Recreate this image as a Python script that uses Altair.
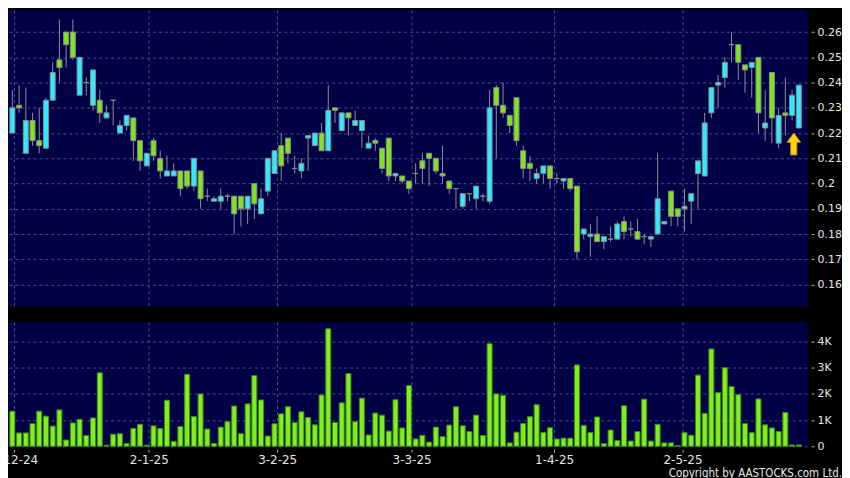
import altair as alt
import pandas as pd

# ---- data (daily candles, ~Dec 2024 - May 2025) ----
open_ = [0.220, 0.231, 0.212, 0.225, 0.217, 0.214, 0.233, 0.249, 0.260, 0.260,
         0.235, 0.240, 0.231, 0.233, 0.226, 0.233, 0.220, 0.223, 0.226, 0.217,
         0.207, 0.217, 0.210, 0.203, 0.203, 0.205, 0.205, 0.199, 0.205, 0.195,
         0.193, 0.193, 0.195, 0.195, 0.195, 0.190, 0.200, 0.188, 0.197, 0.204,
         0.215, 0.218, 0.206, 0.205, 0.218, 0.215, 0.220, 0.213, 0.230, 0.221,
         0.228, 0.223, 0.221, 0.214, 0.217, 0.214, 0.218, 0.203, 0.203, 0.201,
         0.204, 0.209, 0.212, 0.210, 0.204, 0.201, 0.198, 0.191, 0.196, 0.194,
         0.195, 0.193, 0.238, 0.231, 0.227, 0.234, 0.213, 0.208, 0.202, 0.204,
         0.207, 0.202, 0.201, 0.202, 0.199, 0.180, 0.179, 0.180, 0.177, 0.178,
         0.178, 0.185, 0.182, 0.181, 0.179, 0.178, 0.180, 0.184, 0.197, 0.190,
         0.190, 0.193, 0.204, 0.203, 0.228, 0.239, 0.242, 0.255, 0.255, 0.247,
         0.246, 0.250, 0.222, 0.244, 0.216, 0.228, 0.227, 0.222]
high = [0.237, 0.239, 0.238, 0.228, 0.230, 0.234, 0.248, 0.265, 0.260, 0.265,
        0.250, 0.242, 0.245, 0.237, 0.231, 0.233, 0.225, 0.227, 0.226, 0.217,
        0.212, 0.218, 0.213, 0.211, 0.208, 0.205, 0.205, 0.210, 0.205, 0.198,
        0.195, 0.198, 0.196, 0.195, 0.195, 0.195, 0.200, 0.198, 0.210, 0.213,
        0.220, 0.218, 0.211, 0.210, 0.219, 0.220, 0.224, 0.239, 0.230, 0.228,
        0.228, 0.229, 0.225, 0.219, 0.218, 0.214, 0.218, 0.204, 0.203, 0.201,
        0.208, 0.212, 0.212, 0.210, 0.215, 0.201, 0.198, 0.196, 0.196, 0.199,
        0.196, 0.237, 0.239, 0.240, 0.227, 0.234, 0.215, 0.211, 0.206, 0.207,
        0.207, 0.204, 0.202, 0.202, 0.199, 0.182, 0.184, 0.187, 0.179, 0.183,
        0.185, 0.187, 0.185, 0.186, 0.180, 0.179, 0.212, 0.185, 0.197, 0.190,
        0.198, 0.196, 0.209, 0.228, 0.238, 0.243, 0.250, 0.260, 0.255, 0.247,
        0.248, 0.250, 0.237, 0.244, 0.230, 0.242, 0.237, 0.239]
low = [0.220, 0.228, 0.212, 0.215, 0.212, 0.214, 0.233, 0.240, 0.246, 0.249,
       0.235, 0.235, 0.229, 0.224, 0.226, 0.223, 0.220, 0.221, 0.209, 0.205,
       0.207, 0.209, 0.202, 0.203, 0.203, 0.195, 0.198, 0.197, 0.190, 0.193,
       0.193, 0.190, 0.193, 0.180, 0.183, 0.184, 0.186, 0.188, 0.195, 0.204,
       0.201, 0.208, 0.204, 0.202, 0.205, 0.215, 0.213, 0.213, 0.224, 0.221,
       0.219, 0.223, 0.214, 0.214, 0.213, 0.204, 0.201, 0.201, 0.200, 0.196,
       0.200, 0.200, 0.199, 0.204, 0.200, 0.196, 0.190, 0.190, 0.193, 0.190,
       0.193, 0.192, 0.210, 0.226, 0.220, 0.215, 0.202, 0.201, 0.200, 0.200,
       0.198, 0.200, 0.198, 0.197, 0.170, 0.178, 0.171, 0.177, 0.174, 0.177,
       0.178, 0.178, 0.179, 0.178, 0.176, 0.175, 0.180, 0.184, 0.183, 0.183,
       0.181, 0.184, 0.190, 0.203, 0.226, 0.230, 0.238, 0.248, 0.241, 0.236,
       0.234, 0.220, 0.217, 0.216, 0.214, 0.219, 0.225, 0.222]
close = [0.230, 0.230, 0.225, 0.217, 0.215, 0.233, 0.244, 0.246, 0.255, 0.250,
         0.250, 0.240, 0.245, 0.228, 0.228, 0.233, 0.223, 0.227, 0.217, 0.209,
         0.212, 0.211, 0.205, 0.205, 0.205, 0.198, 0.199, 0.210, 0.194, 0.195,
         0.194, 0.195, 0.195, 0.188, 0.190, 0.195, 0.192, 0.194, 0.210, 0.213,
         0.207, 0.212, 0.206, 0.208, 0.219, 0.220, 0.213, 0.229, 0.229, 0.228,
         0.226, 0.225, 0.225, 0.216, 0.216, 0.206, 0.203, 0.204, 0.201, 0.198,
         0.204, 0.206, 0.210, 0.205, 0.203, 0.198, 0.198, 0.196, 0.196, 0.199,
         0.195, 0.230, 0.231, 0.228, 0.223, 0.217, 0.206, 0.206, 0.204, 0.207,
         0.202, 0.202, 0.202, 0.198, 0.173, 0.182, 0.180, 0.177, 0.179, 0.178,
         0.184, 0.181, 0.182, 0.178, 0.179, 0.179, 0.194, 0.185, 0.187, 0.187,
         0.191, 0.196, 0.209, 0.224, 0.238, 0.240, 0.248, 0.255, 0.248, 0.245,
         0.248, 0.228, 0.224, 0.226, 0.227, 0.227, 0.235, 0.239]
volume = [1340, 510, 510, 870, 1340, 1150, 770, 1390, 240, 890,
          1030, 410, 1080, 2810, 40, 460, 480, 110, 680, 840,
          40, 780, 680, 1760, 190, 760, 2750, 1140, 2000, 660,
          110, 730, 940, 1540, 480, 1620, 2700, 1770, 390, 860,
          1240, 1510, 910, 1320, 1100, 820, 1960, 4490, 910, 1660,
          2780, 940, 1840, 430, 1270, 1190, 580, 1780, 700, 2320,
          280, 420, 160, 730, 370, 810, 1510, 780, 560, 1190,
          410, 3920, 2000, 1950, 130, 540, 870, 1130, 1590, 530,
          710, 280, 310, 310, 3110, 800, 530, 1120, 100, 620,
          220, 1550, 200, 560, 1800, 200, 840, 130, 130, 20,
          520, 420, 2720, 1260, 3720, 2050, 3000, 2280, 1970, 870,
          520, 1810, 820, 700, 560, 1290, 50, 50]

tick_pos = [0.3, 20.3, 39.4, 59.4, 80.6, 99.7]
tick_lab = ["2-12-24", "2-1-25", "3-2-25", "3-3-25", "1-4-25", "2-5-25"]
price_ticks = [0.16, 0.17, 0.18, 0.19, 0.20, 0.21, 0.22, 0.23, 0.24, 0.25, 0.26]
vol_ticks = [0, 1000, 2000, 3000, 4000]

n = len(close)
df = pd.DataFrame({"i": list(range(n)), "open": open_, "high": high,
                   "low": low, "close": close, "volume": volume})
df["dir"] = ["up" if c >= o else "down" for o, c in zip(open_, close)]

# label expression for the date axis
expr = f"'{tick_lab[-1]}'"
for k in range(len(tick_pos) - 2, -1, -1):
    mid = (tick_pos[k] + tick_pos[k + 1]) / 2
    expr = f"datum.value < {mid} ? '{tick_lab[k]}' : ({expr})"

W = 806
FONT = "DejaVu Sans"
GRID = "#4C4C88"
UP = "#2EEBFF"
DOWN = "#80E51E"

xscale = alt.Scale(domain=[-0.5, n - 0.5], nice=False, zero=False)

x_top = alt.X("i:Q", scale=xscale, axis=alt.Axis(
    values=tick_pos, tickCount=len(tick_pos), grid=True, labels=False, ticks=False,
    domain=False, title=None, gridDash=[3, 3], gridColor=GRID))

y_price = alt.Y("low:Q", scale=alt.Scale(domain=[0.1516, 0.2688], nice=False, zero=False),
                axis=alt.Axis(orient="right", values=price_ticks, tickCount=len(price_ticks),
                              format=".2~f", grid=True, gridDash=[3, 3], gridColor=GRID,
                              domain=False, tickSize=3, offset=4, labelPadding=3,
                              labelOverlap=False, labelFontSize=11, title=None))

base = alt.Chart(df)
wicks = base.mark_rule(color="#8E8E8E", strokeWidth=1).encode(
    x=x_top, y=y_price, y2="high:Q")
bodies = base.mark_bar(size=5, stroke="#8A8A8A", strokeWidth=1).encode(
    x="i:Q", y="open:Q", y2="close:Q",
    color=alt.Color("dir:N", scale=alt.Scale(domain=["up", "down"], range=[UP, DOWN]),
                    legend=None))

last = df.tail(1)
arrow_path = "M0,-1 L0.62,-0.15 L0.28,-0.15 L0.28,1 L-0.28,1 L-0.28,-0.15 L-0.62,-0.15 Z"
arrow = alt.Chart(last).mark_point(shape=arrow_path, filled=True, size=484,
                                   fill="#FFD21A", stroke="#C88A00", strokeWidth=1,
                                   opacity=1, xOffset=-5, yOffset=16).encode(
    x="i:Q", y="open:Q")

top = alt.layer(wicks, bodies, arrow).properties(width=W, height=297)

x_bot = alt.X("i:Q", scale=xscale, axis=alt.Axis(
    values=tick_pos, tickCount=len(tick_pos), labelExpr=expr, grid=True, gridDash=[3, 3],
    gridColor=GRID, domain=False, tickSize=3, offset=3, labelPadding=2, title=None,
    labelFontSize=12, labelOverlap=False))

vol = alt.Chart(df).mark_bar(size=5, color="#80EE22", stroke="#3E8A10", strokeWidth=1).encode(
    x=x_bot,
    y=alt.Y("volume:Q", scale=alt.Scale(domain=[0, 4760], nice=False),
            axis=alt.Axis(orient="right", values=vol_ticks, tickCount=len(vol_ticks),
                          labelExpr="datum.value == 0 ? '0' : (datum.value / 1000) + 'K'",
                          grid=True, gridDash=[3, 3], gridColor=GRID, domain=False,
                          tickSize=3, offset=4, labelPadding=3, labelOverlap=False,
                          title=None))
).properties(width=W, height=125)

chart = alt.vconcat(
    top, vol, spacing=14,
    title=alt.TitleParams("Copyright by AASTOCKS.com Ltd.", orient="bottom", anchor="end",
                          fontSize=11.5, fontWeight="normal", color="#E6E6E6",
                          font="DejaVu Sans Condensed", offset=2),
    padding={"left": -18, "top": 0, "right": 0, "bottom": 0},
    background="black",
).configure_view(fill="#000046", stroke="transparent").configure_axis(
    labelColor="#E6E6E6", tickColor="#B0B0B0", labelFont=FONT, labelFontSize=11
)

chart.save("out.html", embed_options={"renderer": "svg", "actions": False})
